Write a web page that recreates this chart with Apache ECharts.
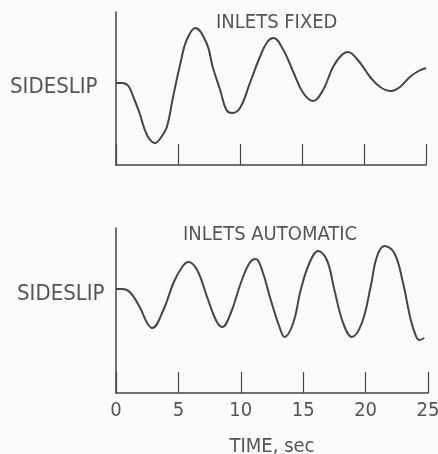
<!DOCTYPE html>
<html>
<head>
<meta charset="utf-8">
<script src="https://cdn.jsdelivr.net/npm/echarts@6/dist/echarts.min.js"></script>
<style>
  html, body { margin: 0; padding: 0; background: #fbfbfa; }
  #chart { width: 438px; height: 454px; }
</style>
</head>
<body>
<div id="chart"></div>
<script>
// time axis ticks (sec)
var timeTicks = [0, 5, 10, 15, 20, 25];

// INLETS FIXED - sideslip trace (arbitrary units, 0 = initial)
var timeFixed = [0, 0.5, 1.0, 1.4, 1.9, 2.5, 3.15, 3.6, 4.1, 4.6, 5.2, 5.7, 6.4, 7.3, 7.8, 8.4, 8.9, 9.35,
    10, 10.8, 11.6, 12.2, 12.7, 13.5, 14.3, 15.1, 15.9, 16.7, 17.5, 18.2, 18.7, 19.5, 20.5, 21.3, 22.2,
    22.9, 23.7, 24.4, 25];
var slipFixed = [0, 0, -3, -14, -30, -52, -60, -55, -44, -14, 20, 43, 55, 40, 16, -7, -27, -30,
    -25, 0, 26, 41, 45, 33, 11, -10, -18, -7, 16, 28, 31, 23, 6, -4, -8,
    -4, 6, 12, 15];

// INLETS AUTOMATIC - sideslip trace
var timeAuto = [0, 0.5, 1.1, 1.9, 2.5, 2.9, 3.8, 4.6, 5.3, 5.8, 6.5, 7.3, 8.0, 8.5, 9.2, 10, 10.7, 11.2,
    11.7, 12.4, 13.1, 13.5, 14.2, 14.8, 15.5, 16.2, 16.9, 17.5, 18.2, 18.9, 19.7, 20.4, 20.9, 21.5,
    22.3, 23.0, 23.6, 24.0, 24.3, 24.7];
var slipAuto = [0, 0, -3, -18, -34, -39, -21, 6, 22, 27, 19, -8, -31, -38, -24, 6, 26, 30,
    19, -11, -38, -48, -34, -1, 26, 38, 29, -1, -34, -48, -34, 2, 32, 43,
    36, 6, -30, -46, -51, -49];

function pairs(xs, ys) {
    var out = [];
    for (var i = 0; i < xs.length; i++) {
        out.push([xs[i], ys[i]]);
    }
    return out;
}

var ink = '#454545';
var textInk = '#555';
var font = '"Liberation Sans Narrow", "DejaVu Sans Condensed", "DejaVu Sans", sans-serif';

function xAxisFor(gridIndex, showLabels) {
    return {
        type: 'value',
        gridIndex: gridIndex,
        min: timeTicks[0],
        max: timeTicks[timeTicks.length - 1],
        interval: timeTicks[1] - timeTicks[0],
        axisLine: { show: true, onZero: false, lineStyle: { color: ink, width: 1.5 } },
        axisTick: { show: true, inside: true, length: 21, lineStyle: { color: ink, width: 1.2 } },
        axisLabel: {
            show: showLabels,
            margin: 8,
            color: textInk,
            fontFamily: font,
            fontSize: 20
        },
        splitLine: { show: false },
        name: showLabels ? 'TIME, sec' : '',
        nameLocation: 'middle',
        nameGap: 44,
        nameTextStyle: { color: textInk, fontFamily: font, fontSize: 20 }
    };
}

function yAxisFor(gridIndex, lo, hi) {
    return {
        type: 'value',
        gridIndex: gridIndex,
        min: lo,
        max: hi,
        axisLine: { show: true, lineStyle: { color: ink, width: 1.5 } },
        axisTick: { show: false },
        axisLabel: { show: false },
        splitLine: { show: false }
    };
}

var chart = echarts.init(document.getElementById('chart'));
var option = {
    backgroundColor: '#fbfbfa',
    animation: false,
    title: [
        { text: 'INLETS FIXED', left: 211, top: 8,
          textStyle: { color: textInk, fontFamily: font, fontSize: 20, fontWeight: 'normal' } },
        { text: 'SIDESLIP', left: 5, top: 71,
          textStyle: { color: textInk, fontFamily: font, fontSize: 22, fontWeight: 'normal' } },
        { text: 'INLETS AUTOMATIC', left: 178, top: 220,
          textStyle: { color: textInk, fontFamily: font, fontSize: 20, fontWeight: 'normal' } },
        { text: 'SIDESLIP', left: 12, top: 278,
          textStyle: { color: textInk, fontFamily: font, fontSize: 22, fontWeight: 'normal' } }
    ],
    grid: [
        { left: 116, right: 12, top: 12, height: 153, outerBoundsMode: 'none' },
        { left: 116, right: 10, top: 228, height: 165, outerBoundsMode: 'none' }
    ],
    xAxis: [xAxisFor(0, false), xAxisFor(1, true)],
    yAxis: [yAxisFor(0, -82, 71), yAxisFor(1, -104, 61)],
    series: [
        {
            type: 'line',
            xAxisIndex: 0,
            yAxisIndex: 0,
            data: pairs(timeFixed, slipFixed),
            smooth: 0.4,
            showSymbol: false,
            lineStyle: { color: ink, width: 2 }
        },
        {
            type: 'line',
            xAxisIndex: 1,
            yAxisIndex: 1,
            data: pairs(timeAuto, slipAuto),
            smooth: 0.4,
            showSymbol: false,
            lineStyle: { color: ink, width: 2 }
        }
    ]
};
chart.setOption(option);
</script>
</body>
</html>
